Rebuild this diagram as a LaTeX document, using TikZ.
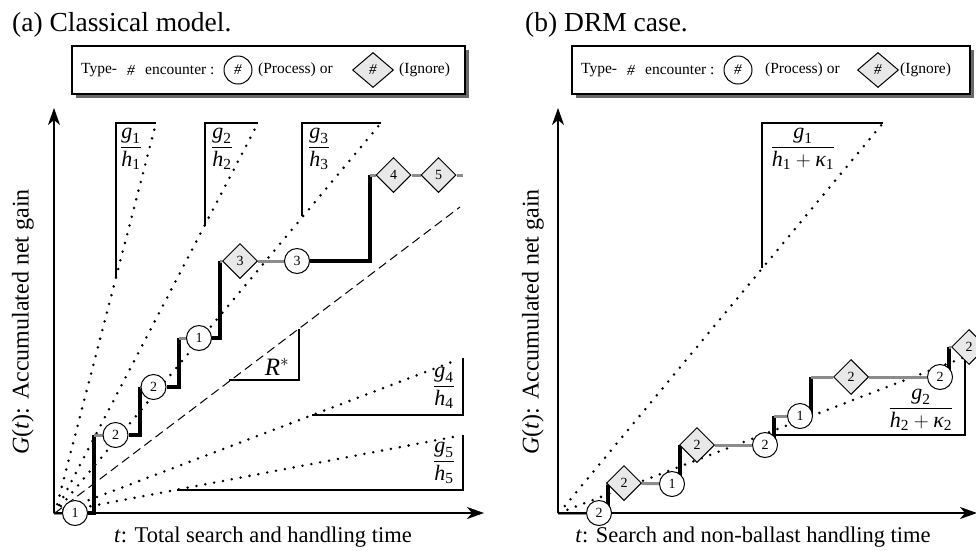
\documentclass[tikz,border=0pt]{standalone}
\usepackage{fontspec}
\setmainfont{Liberation Serif}
\usepackage{amsmath}
\usetikzlibrary{shapes.geometric,arrows.meta}
\pgfdeclarelayer{background}
\pgfsetlayers{background,main}

\definecolor{waitgray}{RGB}{140,140,140}
\definecolor{igngray}{RGB}{232,232,232}
\definecolor{shadowgray}{RGB}{105,105,105}

\newcommand{\fsz}[1]{\fontsize{#1}{#1}\selectfont}
\newcommand{\ratio}[2]{$\displaystyle\frac{#1}{#2}$}
\newcommand{\vi}[1]{\textit{#1}}
\newcommand{\sub}[1]{_{\textrm{#1}}}

\tikzset{
  axis/.style={line width=1.3pt, -{Stealth[length=17pt,width=12pt,inset=5pt]}},
  proc/.style={circle, draw, line width=1pt, fill=white, inner sep=0pt,
    minimum size=25pt, font=\fsz{14}},
  ign/.style={diamond, draw, line width=1pt, fill=igngray, inner sep=0pt,
    minimum width=35pt, minimum height=35pt, font=\fsz{14}},
  gain/.style={line width=3.5pt, black},
  wait/.style={line width=3pt, waitgray},
  rate/.style={line width=2.8pt, line cap=round, dash pattern=on 0pt off 9pt},
  best/.style={line width=1pt, dash pattern=on 9pt off 5pt},
  slope/.style={line width=1.2pt},
  frac/.style={inner sep=0pt, font=\fsz{22}},
  lgd/.style={inner sep=0pt, font=\fsz{15.5}},
  lgdbox/.style={draw, line width=1.2pt, fill=white, inner sep=0pt,
    minimum height=48pt},
  lgdproc/.style={proc, minimum size=28pt, font=\fsz{15}},
  lgdign/.style={ign, minimum width=41pt, minimum height=35pt, font=\fsz{15}},
  title/.style={inner sep=0pt, anchor=west, font=\fsz{27.5}},
  axlabel/.style={inner sep=0pt, font=\fsz{22.5}},
  ylabel/.style={inner sep=0pt, rotate=90, font=\fsz{24}}
}

\begin{document}
\begin{tikzpicture}[x=1pt,y=-1pt]
\useasboundingbox (0,0) rectangle (976,550);

% ---------------- panel (a): classical model ----------------
\node[title] (ta) at (12,25) {(a) Classical model.};

% legend
\fill[shadowgray] (76,50) rectangle (469,98);
\node[lgdbox, minimum width=393pt] (la) at (268.5,70) {};
\node[lgd, anchor=west] (la1) at (81,70) {Type-};
\node[lgd] (la2) at (131,70) {\vi{\#}};
\node[lgd, anchor=west] (la3) at (145,70) {encounter :};
\node[lgdproc] (la4) at (238,70) {\vi{\#}};
\node[lgd, anchor=west] (la5) at (258,70) {(Process) or};
\node[lgdign] (la6) at (373,70) {\vi{\#}};
\node[lgd, anchor=west] (la7) at (399,70) {(Ignore)};

% axes
\coordinate (oa) at (54,513);
\coordinate (xa) at (484,513);
\coordinate (ya) at (54,108);
\draw[axis] (oa) -- (xa);
\draw[axis] (oa) -- (ya);
\node[ylabel] (gya) at (23,322) {\vi{G}(\vi{t}): Accumulated net gain};
\node[axlabel] (gxa) at (263,537) {\vi{t}: Total search and handling time};

% encounters
\node[proc] (a1) at (75,513) {1};
\node[proc] (a2) at (115.5,435) {2};
\node[proc] (a3) at (153.5,387) {2};
\node[proc] (a4) at (199,338) {1};
\node[ign]  (a5) at (240,261) {3};
\node[proc] (a6) at (297,261) {3};
\node[ign]  (a7) at (393.5,175) {4};
\node[ign]  (a8) at (438.5,175) {5};

% corners of the gain path
\coordinate (ka1) at (94,513);   \coordinate (ka2) at (94,435);
\coordinate (ka3) at (140,435);  \coordinate (ka4) at (140,387);
\coordinate (ka5) at (179,387);  \coordinate (ka6) at (179,338);
\coordinate (ka7) at (220,338);  \coordinate (ka8) at (220,261);
\coordinate (ka9) at (370,261);  \coordinate (ka10) at (370,175);
\coordinate (ka11) at (463,175);

% rate lines and their slope triangles
\coordinate (ra) at (55,513);
\coordinate (pa1) at (156,123); \coordinate (qa1) at (116,278); \coordinate (sa1) at (116,123);
\coordinate (pa2) at (258,123); \coordinate (qa2) at (205,226); \coordinate (sa2) at (205,123);
\coordinate (pa3) at (381,123); \coordinate (qa3) at (302,216); \coordinate (sa3) at (302,123);
\coordinate (pa4) at (457,360); \coordinate (qa4) at (312,415); \coordinate (sa4) at (463,415); \coordinate (ua4) at (463,358);
\coordinate (pa5) at (453,437); \coordinate (qa5) at (177,490); \coordinate (sa5) at (463,490); \coordinate (ua5) at (463,435);
\coordinate (pr) at (460,207);  \coordinate (qr) at (229,380);  \coordinate (sr) at (299,380);  \coordinate (ur) at (299,329);

\begin{pgfonlayer}{background}
  \draw[rate] (ra) -- (pa1);
  \draw[rate] (ra) -- (pa2);
  \draw[rate] (ra) -- (pa3);
  \draw[rate] (ra) -- (pa4);
  \draw[rate] (ra) -- (pa5);
  \draw[best] (ra) -- (pr);
  \draw[slope] (qa1) -- (sa1) -- (pa1);
  \draw[slope] (qa2) -- (sa2) -- (pa2);
  \draw[slope] (qa3) -- (sa3) -- (pa3);
  \draw[slope] (qa4) -- (sa4) -- (ua4);
  \draw[slope] (qa5) -- (sa5) -- (ua5);
  \draw[slope] (qr) -- (sr) -- (ur);

  \draw[wait] (oa) -- (a1);
  \draw[gain] (a1) -- (ka1) -- (ka2);
  \draw[wait] (ka2) -- (a2);
  \draw[gain] (a2) -- (ka3) -- (ka4);
  \draw[wait] (ka4) -- (a3);
  \draw[gain] (a3) -- (ka5) -- (ka6);
  \draw[wait] (ka6) -- (a4);
  \draw[gain] (a4) -- (ka7) -- (ka8);
  \draw[wait] (ka8) -- (a5);
  \draw[wait] (a5) -- (a6);
  \draw[gain] (a6) -- (ka9) -- (ka10);
  \draw[wait] (ka10) -- (a7);
  \draw[wait] (a7) -- (a8);
  \draw[wait] (a8) -- (ka11);
\end{pgfonlayer}

\node[frac] (fa1) at (131,149) {\ratio{\vi{g}\sub{1}}{\vi{h}\sub{1}}};
\node[frac] (fa2) at (222,149) {\ratio{\vi{g}\sub{2}}{\vi{h}\sub{2}}};
\node[frac] (fa3) at (319,149) {\ratio{\vi{g}\sub{3}}{\vi{h}\sub{3}}};
\node[frac] (fa4) at (444,388) {\ratio{\vi{g}\sub{4}}{\vi{h}\sub{4}}};
\node[frac] (fa5) at (444,463) {\ratio{\vi{g}\sub{5}}{\vi{h}\sub{5}}};
\node[frac, font=\fsz{25}] (fr) at (277,367) {$\vi{R}^{*}$};

% ---------------- panel (b): DRM case ----------------
\node[title] (tb) at (525,25) {(b) DRM case.};

% legend
\fill[shadowgray] (576,50) rectangle (974,98);
\node[lgdbox, minimum width=398pt] (lb) at (771,70) {};
\node[lgd, anchor=west] (lb1) at (581,70) {Type-};
\node[lgd] (lb2) at (631,70) {\vi{\#}};
\node[lgd, anchor=west] (lb3) at (645,70) {encounter :};
\node[lgdproc] (lb4) at (738,70) {\vi{\#}};
\node[lgd, anchor=west] (lb5) at (765,70) {(Process) or};
\node[lgdign] (lb6) at (878,70) {\vi{\#}};
\node[lgd, anchor=west] (lb7) at (900,70) {(Ignore)};

% axes
\coordinate (ob) at (558,513);
\coordinate (xb) at (977,513);
\coordinate (yb) at (558,108);
\draw[axis] (ob) -- (xb);
\draw[axis] (ob) -- (yb);
\node[ylabel] (gyb) at (533,322) {\vi{G}(\vi{t}): Accumulated net gain};
\node[axlabel] (gxb) at (753,537) {\vi{t}: Search and non-ballast handling time};

% encounters
\node[proc] (b1) at (599,513) {2};
\node[ign]  (b2) at (624,483) {2};
\node[proc] (b3) at (672,484) {1};
\node[ign]  (b4) at (697,445) {2};
\node[proc] (b5) at (765,445) {2};
\node[proc] (b6) at (800,416) {1};
\node[ign]  (b7) at (851,377) {2};
\node[proc] (b8) at (940,377) {2};
\node[ign]  (b9) at (969,347) {2};

% corners of the gain path
\coordinate (kb1) at (608,513);  \coordinate (kb2) at (608,483);
\coordinate (kb3) at (680,484);  \coordinate (kb4) at (680,445);
\coordinate (kb5) at (774,445);  \coordinate (kb6) at (774,416);
\coordinate (kb7) at (811,416);  \coordinate (kb8) at (811,377);
\coordinate (kb9) at (949,377);  \coordinate (kb10) at (949,347);

% rate lines and their slope triangles
\coordinate (rb) at (559,513);
\coordinate (pb1) at (883,123); \coordinate (qb1) at (762,268); \coordinate (sb1) at (762,123);
\coordinate (pb2) at (965,357); \coordinate (qb2) at (773,435); \coordinate (sb2) at (965,435);

\begin{pgfonlayer}{background}
  \draw[rate] (rb) -- (pb1);
  \draw[rate] (rb) -- (pb2);
  \draw[slope] (qb1) -- (sb1) -- (pb1);
  \draw[slope] (qb2) -- (sb2) -- (pb2);

  \draw[wait] (ob) -- (b1);
  \draw[gain] (kb1) -- (kb2);
  \draw[wait] (kb2) -- (b2);
  \draw[wait] (b2) -- (b3);
  \draw[gain] (kb3) -- (kb4);
  \draw[wait] (b4) -- (b5);
  \draw[gain] (kb5) -- (kb6);
  \draw[wait] (kb6) -- (b6);
  \draw[gain] (kb7) -- (kb8);
  \draw[wait] (kb8) -- (b7);
  \draw[wait] (b7) -- (b8);
  \draw[gain] (kb9) -- (kb10);
  \draw[wait] (kb10) -- (b9);
\end{pgfonlayer}

\node[frac] (fb1) at (803,149) {\ratio{\vi{g}\sub{1}}{\vi{h}\sub{1} + \vi{κ}\sub{1}}};
\node[frac] (fb2) at (921,410) {\ratio{\vi{g}\sub{2}}{\vi{h}\sub{2} + \vi{κ}\sub{2}}};
\end{tikzpicture}
\end{document}
